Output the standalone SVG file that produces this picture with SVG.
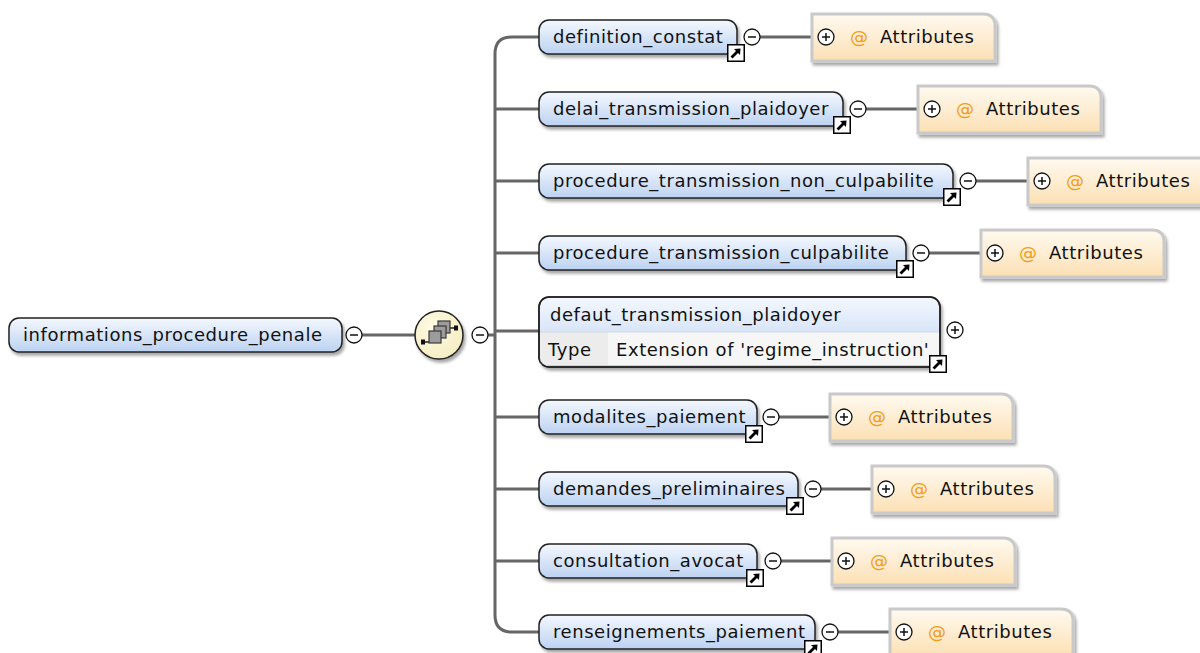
<svg xmlns="http://www.w3.org/2000/svg" xmlns:xlink="http://www.w3.org/1999/xlink" width="1200" height="653" viewBox="0 0 1200 653">
  <defs>
    <linearGradient id="elemFill" x1="0" y1="0" x2="0" y2="1">
      <stop offset="0" stop-color="#f4f8fe"/>
      <stop offset="1" stop-color="#bcd2f2"/>
    </linearGradient>
    <linearGradient id="attrFill" x1="0" y1="0" x2="0" y2="1">
      <stop offset="0" stop-color="#fffaf0"/>
      <stop offset="1" stop-color="#fce0b4"/>
    </linearGradient>
    <radialGradient id="seqFill" cx="0.4" cy="0.35" r="0.7">
      <stop offset="0" stop-color="#fffbe6"/>
      <stop offset="1" stop-color="#f5ecc0"/>
    </radialGradient>
    <filter id="shadow" x="-10%" y="-20%" width="130%" height="160%">
      <feDropShadow dx="2" dy="3" stdDeviation="1.5" flood-color="#000" flood-opacity="0.35"/>
    </filter>
    <symbol id="refIcon" viewBox="0 0 18 18" width="18" height="18">
      <rect x="0.75" y="0.75" width="16.5" height="16.5" fill="#fff" stroke="#000" stroke-width="1.5"/>
      <path d="M3.5,12.5 L9,7 L7,5 L13.5,4.5 L13,11 L11,9 L5.5,14.5 Z" fill="#000"/>
    </symbol>
    <symbol id="minus" viewBox="-9 -9 18 18" width="18" height="18">
      <circle r="8" fill="#fff" stroke="#111" stroke-width="1.3"/>
      <line x1="-4" y1="0" x2="4" y2="0" stroke="#111" stroke-width="1.5"/>
    </symbol>
    <symbol id="plus" viewBox="-9 -9 18 18" width="18" height="18">
      <circle r="8" fill="#fff" stroke="#111" stroke-width="1.3"/>
      <line x1="-4" y1="0" x2="4" y2="0" stroke="#111" stroke-width="1.5"/>
      <line x1="0" y1="-4" x2="0" y2="4" stroke="#111" stroke-width="1.5"/>
    </symbol>
  </defs>
  <style>
    text { font-family: "DejaVu Sans", "Liberation Sans", sans-serif; font-size: 18px; letter-spacing: 0.55px; fill: #111; }
    .elem { fill: url(#elemFill); stroke: #222; stroke-width: 1.5; filter: url(#shadow); }
    .attr { fill: url(#attrFill); stroke: #c9c9c9; stroke-width: 3; filter: url(#shadow); }
    .conn { fill: none; stroke: #666; stroke-width: 3; }
    .at { fill: #f39c12; }
    .seqbox { fill: #9c9c9c; stroke: #3a3a3a; stroke-width: 1.2; }
  </style>

  <rect width="1200" height="653" fill="#fff"/>

  <!-- connectors -->
  <g id="connectors">
    <line class="conn" x1="362" y1="335" x2="416" y2="335"/>
    <line class="conn" x1="488" y1="335" x2="495" y2="335"/>
    <path class="conn" d="M540,37 H512 Q495,37 495,54 V615 Q495,632 512,632 H540"/>
    <line class="conn" x1="495" y1="109" x2="540" y2="109"/>
    <line class="conn" x1="495" y1="181" x2="540" y2="181"/>
    <line class="conn" x1="495" y1="253" x2="540" y2="253"/>
    <line class="conn" x1="495" y1="331" x2="540" y2="331"/>
    <line class="conn" x1="495" y1="417" x2="540" y2="417"/>
    <line class="conn" x1="495" y1="489" x2="540" y2="489"/>
    <line class="conn" x1="495" y1="561" x2="540" y2="561"/>
    <line class="conn" x1="760" y1="37" x2="813" y2="37"/>
    <line class="conn" x1="866" y1="109" x2="919" y2="109"/>
    <line class="conn" x1="976" y1="181" x2="1029" y2="181"/>
    <line class="conn" x1="929" y1="253" x2="982" y2="253"/>
    <line class="conn" x1="779" y1="417" x2="831" y2="417"/>
    <line class="conn" x1="821" y1="489" x2="873" y2="489"/>
    <line class="conn" x1="781" y1="561" x2="833" y2="561"/>
    <line class="conn" x1="838" y1="632" x2="891" y2="632"/>
  </g>

  <!-- root element -->
  <g id="informations_procedure_penale">
    <rect class="elem" x="9" y="318" width="333" height="34" rx="10"/>
    <text x="23" y="341">informations_procedure_penale</text>
    <use href="#minus" x="345" y="326"/>
  </g>

  <!-- sequence compositor -->
  <g id="sequence">
    <circle cx="439" cy="335" r="24" fill="url(#seqFill)" stroke="#222" stroke-width="1.5" filter="url(#shadow)"/>
    <line x1="424" y1="342" x2="430" y2="342" stroke="#222" stroke-width="1.5"/>
    <line x1="448" y1="328" x2="455" y2="328" stroke="#222" stroke-width="1.5"/>
    <rect x="421" y="339.5" width="4" height="5" fill="#111"/>
    <rect x="454" y="325.5" width="4" height="5" fill="#111"/>
    <rect class="seqbox" x="438" y="321" width="12" height="12"/>
    <rect class="seqbox" x="434" y="326" width="12" height="12"/>
    <rect class="seqbox" x="429" y="331" width="12" height="12"/>
    <use href="#minus" x="471" y="326"/>
  </g>

  <!-- child elements -->
  <g id="definition_constat">
    <rect class="elem" x="539" y="20" width="198" height="34" rx="10"/>
    <text x="553" y="43">definition_constat</text>
    <use href="#refIcon" x="727" y="44"/>
    <use href="#minus" x="743" y="28"/>
  </g>
  <g id="definition_constat_attributes">
    <path class="attr" d="M812,14 H983 Q995,14 995,26 V61 H812 Z"/>
    <use href="#plus" x="817" y="28"/>
    <text class="at" x="850" y="43">@</text>
    <text x="880" y="43">Attributes</text>
  </g>

  <g id="delai_transmission_plaidoyer">
    <rect class="elem" x="539" y="92" width="304" height="34" rx="10"/>
    <text x="553" y="115">delai_transmission_plaidoyer</text>
    <use href="#refIcon" x="833" y="116"/>
    <use href="#minus" x="849" y="100"/>
  </g>
  <g id="delai_transmission_plaidoyer_attributes">
    <path class="attr" d="M918,86 H1089 Q1101,86 1101,98 V133 H918 Z"/>
    <use href="#plus" x="923" y="100"/>
    <text class="at" x="956" y="115">@</text>
    <text x="986" y="115">Attributes</text>
  </g>

  <g id="procedure_transmission_non_culpabilite">
    <rect class="elem" x="539" y="164" width="414" height="34" rx="10"/>
    <text x="553" y="187">procedure_transmission_non_culpabilite</text>
    <use href="#refIcon" x="943" y="188"/>
    <use href="#minus" x="959" y="172"/>
  </g>
  <g id="procedure_transmission_non_culpabilite_attributes">
    <path class="attr" d="M1028,158 H1199 Q1211,158 1211,170 V205 H1028 Z"/>
    <use href="#plus" x="1033" y="172"/>
    <text class="at" x="1066" y="187">@</text>
    <text x="1096" y="187">Attributes</text>
  </g>

  <g id="procedure_transmission_culpabilite">
    <rect class="elem" x="539" y="236" width="367" height="34" rx="10"/>
    <text x="553" y="259">procedure_transmission_culpabilite</text>
    <use href="#refIcon" x="896" y="260"/>
    <use href="#minus" x="912" y="244"/>
  </g>
  <g id="procedure_transmission_culpabilite_attributes">
    <path class="attr" d="M981,230 H1152 Q1164,230 1164,242 V277 H981 Z"/>
    <use href="#plus" x="986" y="244"/>
    <text class="at" x="1019" y="259">@</text>
    <text x="1049" y="259">Attributes</text>
  </g>

  <g id="defaut_transmission_plaidoyer">
    <rect class="elem" x="539" y="297" width="401" height="70" rx="10"/>
    <rect x="540" y="332" width="68" height="33" fill="#ececec"/>
    <rect x="608" y="332" width="331" height="33" fill="#f6f6f6"/>
    <line x1="540" y1="332" x2="939" y2="332" stroke="#cfd8e6" stroke-width="1"/>
    <rect class="elem" x="539" y="297" width="401" height="70" rx="10" style="fill:none;filter:none"/>
    <text x="550" y="321">defaut_transmission_plaidoyer</text>
    <text x="548" y="356">Type</text>
    <text x="616" y="356">Extension of 'regime_instruction'</text>
    <use href="#refIcon" x="929" y="355"/>
    <use href="#plus" x="946" y="321"/>
  </g>

  <g id="modalites_paiement">
    <rect class="elem" x="539" y="400" width="218" height="34" rx="10"/>
    <text x="553" y="423">modalites_paiement</text>
    <use href="#refIcon" x="745" y="425"/>
    <use href="#minus" x="762" y="408"/>
  </g>
  <g id="modalites_paiement_attributes">
    <path class="attr" d="M830,394 H1001 Q1013,394 1013,406 V441 H830 Z"/>
    <use href="#plus" x="835" y="408"/>
    <text class="at" x="868" y="423">@</text>
    <text x="898" y="423">Attributes</text>
  </g>

  <g id="demandes_preliminaires">
    <rect class="elem" x="539" y="472" width="259" height="34" rx="10"/>
    <text x="553" y="495">demandes_preliminaires</text>
    <use href="#refIcon" x="786" y="497"/>
    <use href="#minus" x="804" y="480"/>
  </g>
  <g id="demandes_preliminaires_attributes">
    <path class="attr" d="M872,466 H1043 Q1055,466 1055,478 V513 H872 Z"/>
    <use href="#plus" x="877" y="480"/>
    <text class="at" x="910" y="495">@</text>
    <text x="940" y="495">Attributes</text>
  </g>

  <g id="consultation_avocat">
    <rect class="elem" x="539" y="544" width="218" height="34" rx="10"/>
    <text x="553" y="567">consultation_avocat</text>
    <use href="#refIcon" x="746" y="569"/>
    <use href="#minus" x="764" y="552"/>
  </g>
  <g id="consultation_avocat_attributes">
    <path class="attr" d="M832,538 H1003 Q1015,538 1015,550 V585 H832 Z"/>
    <use href="#plus" x="837" y="552"/>
    <text class="at" x="870" y="567">@</text>
    <text x="900" y="567">Attributes</text>
  </g>

  <g id="renseignements_paiement">
    <rect class="elem" x="539" y="615" width="276" height="34" rx="10"/>
    <text x="553" y="638">renseignements_paiement</text>
    <use href="#refIcon" x="804" y="640"/>
    <use href="#minus" x="821" y="623"/>
  </g>
  <g id="renseignements_paiement_attributes">
    <path class="attr" d="M890,609 H1061 Q1073,609 1073,621 V656 H890 Z"/>
    <use href="#plus" x="895" y="623"/>
    <text class="at" x="928" y="638">@</text>
    <text x="958" y="638">Attributes</text>
  </g>
</svg>
